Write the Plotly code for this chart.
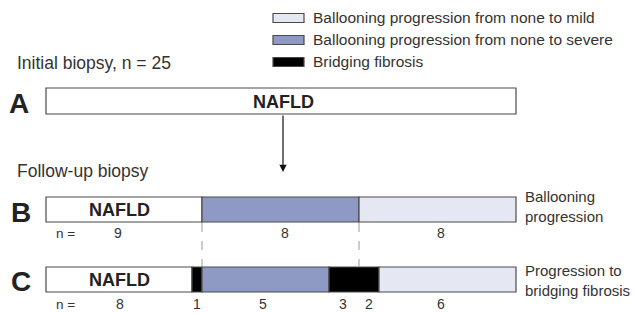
import plotly.graph_objects as go
import numpy as np

# ---- data ----
initial_n = 25
rows = ["A", "B", "C"]
row_titles = ["Ballooning\nprogression", "Progression to\nbridging fibrosis"]
legend_labels = ["Ballooning progression from none to mild",
                 "Ballooning progression from none to severe",
                 "Bridging fibrosis"]
counts_B = [9, 8, 8]
counts_C = [8, 1, 5, 3, 2, 6]

# schematic segment lengths (diagram is not to scale)
seg_A = [470]
seg_B = [156, 157, 157]
seg_C = [146, 10, 127, 50, 137]

WHITE, BLUE, LIGHT, BLACK = "#ffffff", "#8e9ac4", "#e5e8f3", "#000000"
col_A = [WHITE]
col_B = [WHITE, BLUE, LIGHT]
col_C = [WHITE, BLACK, BLUE, BLACK, LIGHT]

FONT = "Liberation Sans, Arial, sans-serif"
TXT = "#222222"
X0 = 46
ROW_Y = {"A": 101, "B": 209.5, "C": 279.5}
ROW_H = {"A": 26, "B": 25, "C": 25}

fig = go.Figure()

def add_row(name, widths, colors):
    bases = X0 + np.concatenate([[0], np.cumsum(widths)[:-1]])
    fig.add_trace(go.Bar(
        orientation="h", y=[ROW_Y[name]] * len(widths), x=widths, base=bases,
        width=[ROW_H[name]] * len(widths),
        marker=dict(color=colors, line=dict(color="#4a4a4a", width=1.2)),
        showlegend=False, hoverinfo="skip"))
    return bases

add_row("A", seg_A, col_A)
bB = add_row("B", seg_B, col_B)
bC = add_row("C", seg_C, col_C)

ann = []
def txt(x, y, s, size=14, bold=False, xanchor="center", color=TXT):
    ann.append(dict(x=x, y=y, xref="x", yref="y", text=(f"<b>{s}</b>" if bold else s),
                    showarrow=False, xanchor=xanchor, yanchor="middle",
                    font=dict(family=FONT, size=size, color=color)))

txt(15, 63, f"Initial biopsy, n = {initial_n}", 17.5, xanchor="left", color="#333")
txt(15, 171, "Follow-up biopsy", 17.5, xanchor="left", color="#333")
txt(19, 103, "A", 28, True)
txt(21, 212, "B", 28, True)
txt(21, 281, "C", 28, True)
txt(283, 102, "NAFLD", 18, True)
txt(119, 210, "NAFLD", 18, True)
txt(119, 280, "NAFLD", 18, True)

# n labels
txt(65, 233, "n =", 13.5, color="#333")
txt(65, 304, "n =", 13.5, color="#333")
for x, n in zip([118, 285, 441], counts_B):
    txt(x, 233, str(n), 14, color="#333")
for x, n in zip([120, 197, 263, 343, 369, 441], counts_C):
    txt(x, 304, str(n), 14, color="#333")

# right labels
for (y, s) in [(206, row_titles[0]), (280, row_titles[1])]:
    ann.append(dict(x=523, y=y, xref="x", yref="y", text=s.replace("\n", "<br>"),
                    showarrow=False, xanchor="left", yanchor="middle", align="left",
                    font=dict(family=FONT, size=15, color="#333")))

# arrow
ann.append(dict(x=283, y=172, ax=283, ay=114, xref="x", yref="y", axref="x", ayref="y",
                text="", showarrow=True, arrowhead=2, arrowsize=1.2, arrowwidth=1.2,
                arrowcolor="#111"))

# legend
shapes = []
leg_cols = [LIGHT, BLUE, BLACK]
for i, (lab, c) in enumerate(zip(legend_labels, leg_cols)):
    yc = 18 + 22 * i
    shapes.append(dict(type="rect", xref="x", yref="y", x0=273, x1=304, y0=yc - 4.5, y1=yc + 4.5,
                       fillcolor=c, line=dict(color="#4a4a4a", width=1.2)))
    txt(311, yc - 0.5, lab, 15.5, xanchor="left", color="#333")

# dashed guides
for x in [X0 + seg_B[0], X0 + seg_B[0] + seg_B[1]]:
    shapes.append(dict(type="line", xref="x", yref="y", x0=x, x1=x, y0=223, y1=266,
                       line=dict(color="#999", width=1, dash="dash")))

fig.update_layout(
    width=636, height=313, margin=dict(l=0, r=0, t=0, b=0),
    paper_bgcolor="white", plot_bgcolor="white",
    xaxis=dict(range=[0, 636], visible=False, fixedrange=True),
    yaxis=dict(range=[313, 0], visible=False, fixedrange=True),
    barmode="overlay", annotations=ann, shapes=shapes,
)
fig.write_html("out.html", config={"displayModeBar": False},
               post_script="document.body.style.margin='0px';document.body.style.overflow='hidden';")
